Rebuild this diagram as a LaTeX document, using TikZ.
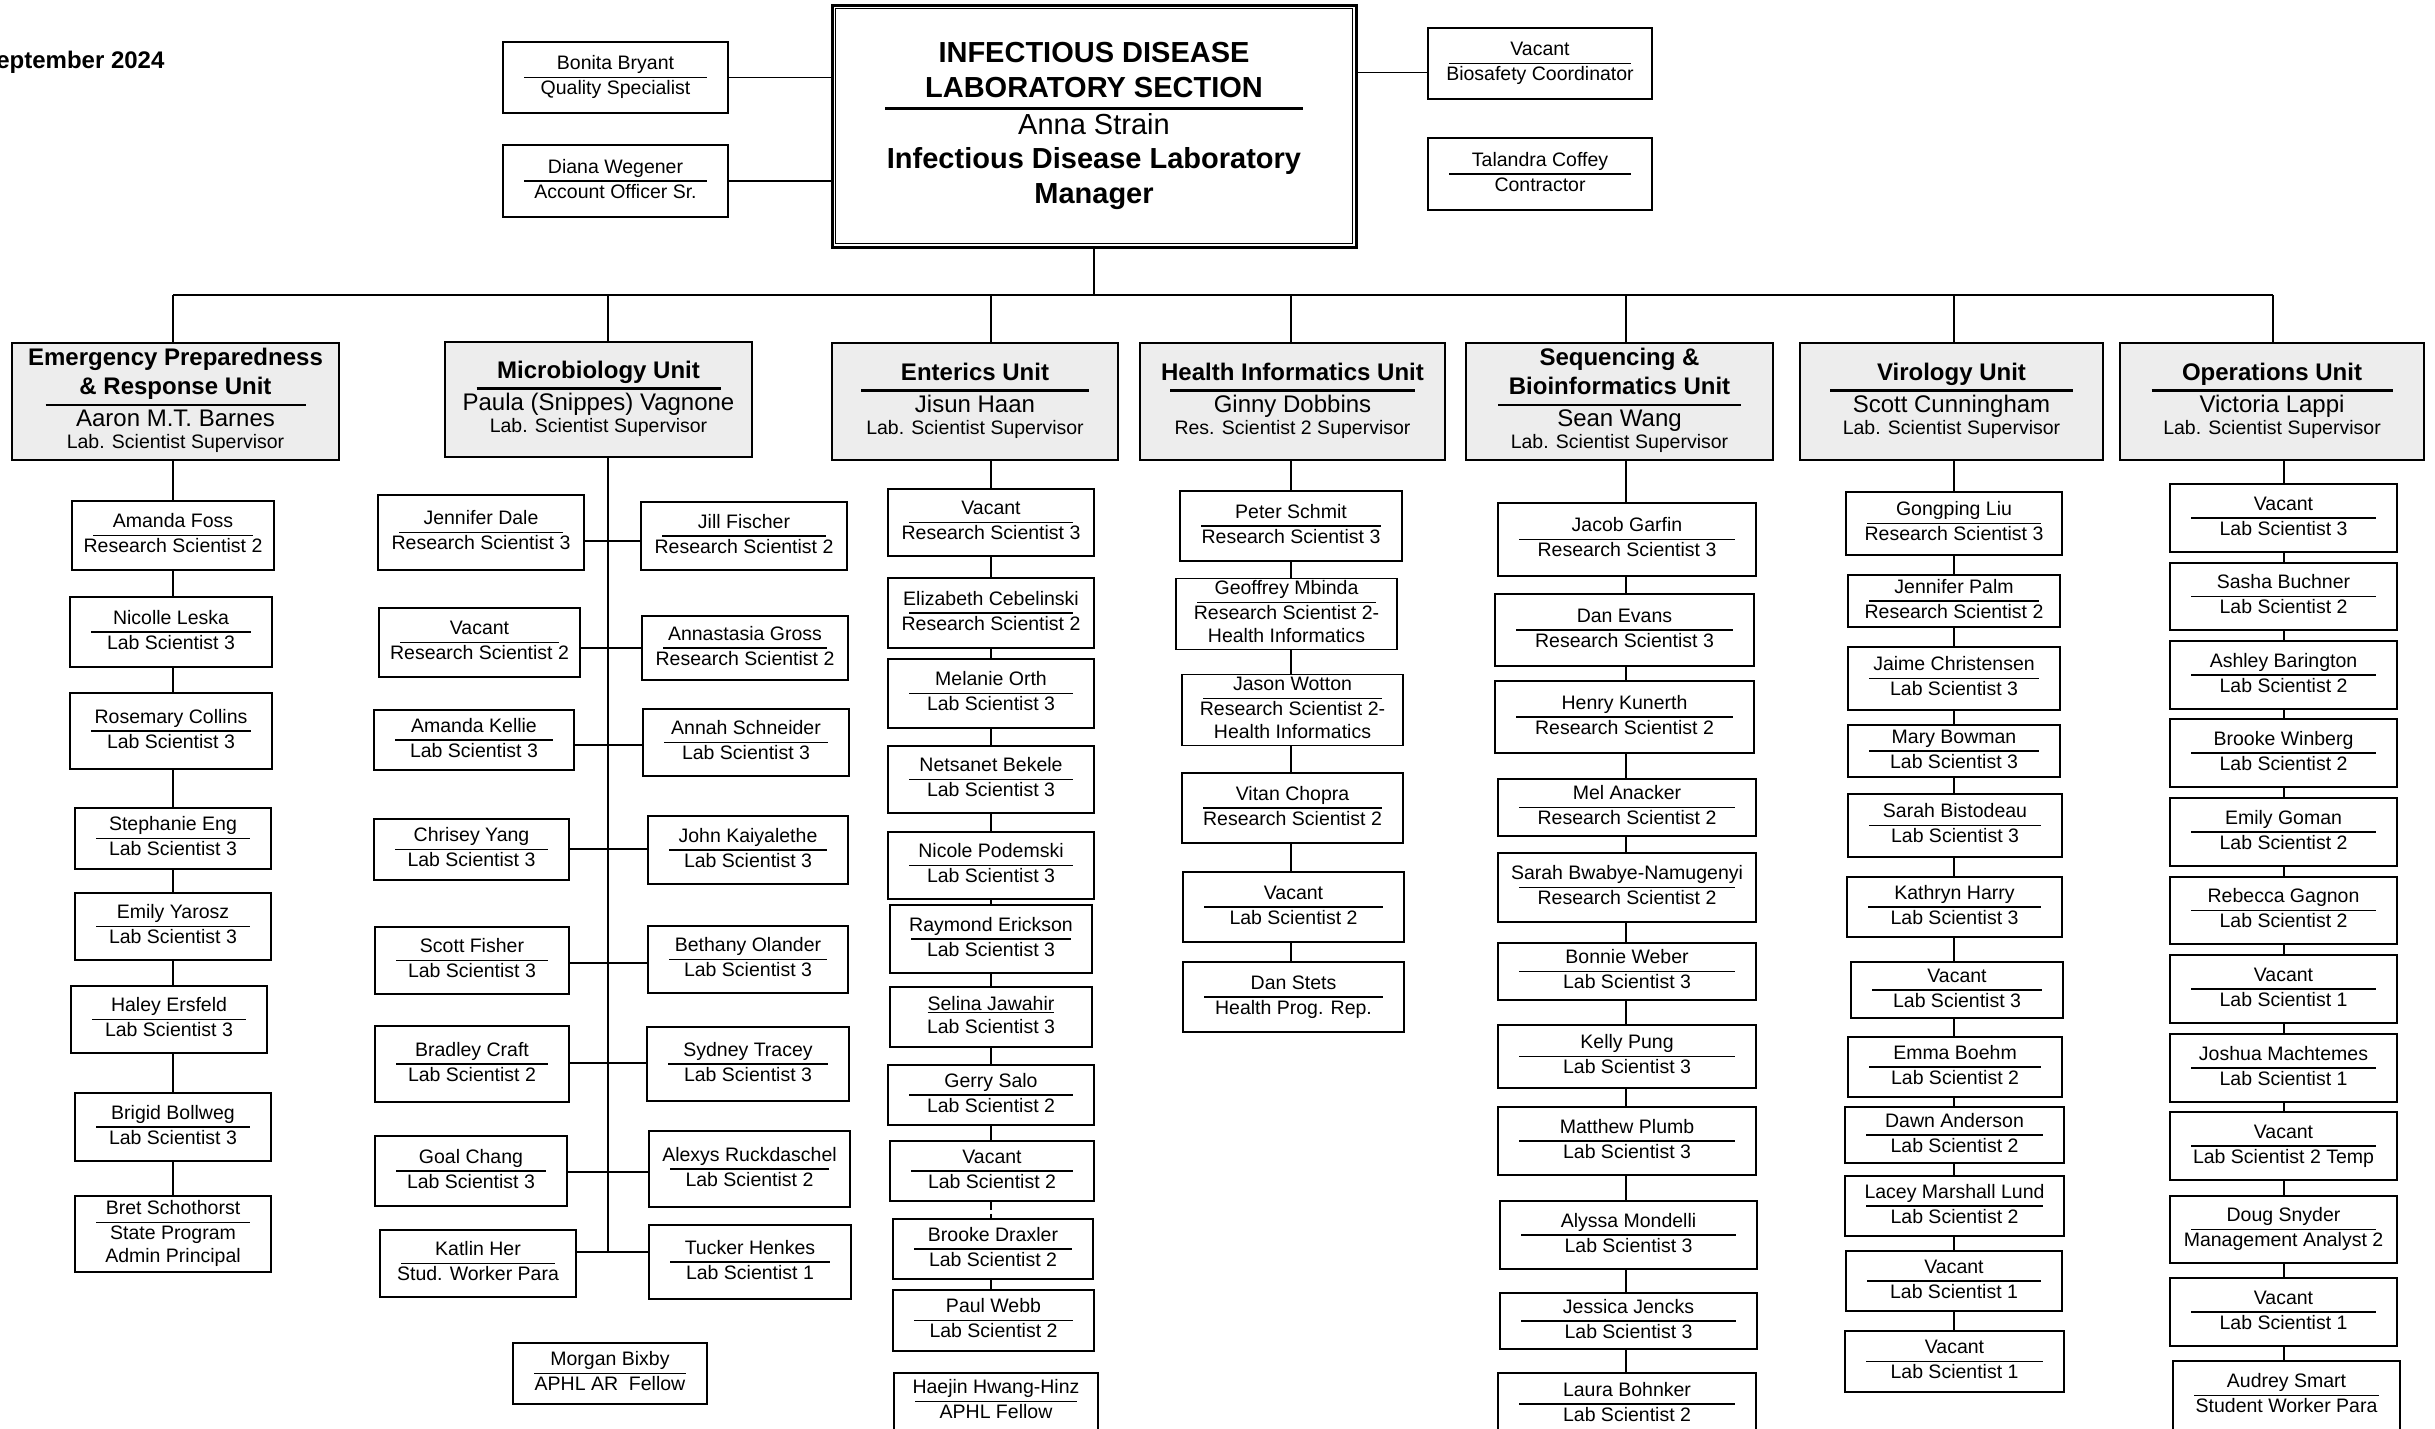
\documentclass[tikz,border=0pt]{standalone}
\usepackage{fontspec}
\setmainfont{Liberation Sans}
\usetikzlibrary{backgrounds}

% card contents: rule width, name, title line(s)
\newcommand{\who}[3]{\begin{tabular}{@{}c@{}}\makebox[#1]{#2}\\\hline\makebox[#1]{#3}\end{tabular}}
\newcommand{\whox}[4]{\begin{tabular}{@{}c@{}}\makebox[#1]{#2}\\\hline\makebox[#1]{#3}\\\makebox[#1]{#4}\end{tabular}}
\newcommand{\hdr}[1]{\makebox[0pt]{\bfseries #1}}
\newcommand{\unitcard}[4]{\begin{tabular}{@{}c@{}}#2\\\hline\makebox[#1]{#3}\\[-7pt]\makebox[#1]{\fontsize{19.5}{23}\selectfont #4}\end{tabular}}

% one staff box from its corners: name, x1, y1, x2, y2, person, title
\newcommand{\staff}[7]{\node[staffbox, minimum width=#4-#2, minimum height=#5-#3] (#1) at ({(#2+#4)/2},{(#3+#5)/2}) {\who{\dimexpr#4pt-#2pt-42pt\relax}{#6}{#7}};}
\newcommand{\staffx}[8]{\node[staffbox, minimum width=#4-#2, minimum height=#5-#3] (#1) at ({(#2+#4)/2},{(#3+#5)/2}) {\whox{\dimexpr#4pt-#2pt-42pt\relax}{#6}{#7}{#8}};}

\tikzset{
  staffbox/.style={draw, line width=1.6pt, fill=white, inner sep=0pt,
    font=\fontsize{19.5}{23}\selectfont\setlength\arrayrulewidth{1.9pt}},
  unitbox/.style={draw, line width=2.6pt, fill=black!7, inner sep=0pt,
    font=\fontsize{24}{29}\selectfont\setlength\arrayrulewidth{2.8pt}},
  chiefbox/.style={draw, line width=3pt, fill=white, inner sep=0pt,
    font=\fontsize{29}{34.5}\selectfont\setlength\arrayrulewidth{2.8pt}},
  link/.style={line width=1.5pt}
}

\begin{document}
\begin{tikzpicture}[x=1pt,y=-1pt]
\useasboundingbox (0,0) rectangle (2435,1428);

\node[font=\bfseries\fontsize{24}{28}\selectfont, anchor=base east] (date) at (168,68) {September 2024};

% section head
\node[chiefbox, minimum width=524, minimum height=242] (mgr) at (1094,126) {\begin{tabular}{@{}c@{}}\hdr{INFECTIOUS DISEASE}\\\hdr{LABORATORY SECTION}\\\hline\makebox[418pt]{Anna Strain}\\\hdr{Infectious Disease Laboratory}\\\hdr{Manager}\end{tabular}};
\draw[line width=1.2pt] ([shift={(5,5)}]mgr.north west) rectangle ([shift={(-5,-5)}]mgr.south east);

\staff{bryant}{503}{42}{728}{113}{Bonita Bryant}{Quality Specialist}
\staff{wegener}{503}{145}{728}{217}{Diana Wegener}{Account Officer Sr.}
\staff{biosafety}{1428}{28}{1652}{99}{Vacant}{Biosafety Coordinator}
\staff{coffey}{1428}{138}{1652}{210}{Talandra Coffey}{Contractor}

% units
\node[unitbox, minimum width=327, minimum height=117] (epr) at (175.5,401.5) {\unitcard{260pt}{\hdr{Emergency Preparedness}\\\hdr{\& Response Unit}}{Aaron M.T. Barnes}{Lab. Scientist Supervisor}};
\node[unitbox, minimum width=307, minimum height=115] (micro) at (598.5,399.5) {\unitcard{244pt}{\hdr{Microbiology Unit}}{Paula (Snippes) Vagnone}{Lab. Scientist Supervisor}};
\node[unitbox, minimum width=286, minimum height=117] (enterics) at (975,401.5) {\unitcard{228pt}{\hdr{Enterics Unit}}{Jisun Haan}{Lab. Scientist Supervisor}};
\node[unitbox, minimum width=305, minimum height=117] (hi) at (1292.5,401.5) {\unitcard{245pt}{\hdr{Health Informatics Unit}}{Ginny Dobbins}{Res. Scientist 2 Supervisor}};
\node[unitbox, minimum width=307, minimum height=117] (seq) at (1619.5,401.5) {\unitcard{243pt}{\hdr{Sequencing \&}\\\hdr{Bioinformatics Unit}}{Sean Wang}{Lab. Scientist Supervisor}};
\node[unitbox, minimum width=303, minimum height=117] (vir) at (1951.5,401.5) {\unitcard{243pt}{\hdr{Virology Unit}}{Scott Cunningham}{Lab. Scientist Supervisor}};
\node[unitbox, minimum width=304, minimum height=117] (ops) at (2272,401.5) {\unitcard{241pt}{\hdr{Operations Unit}}{Victoria Lappi}{Lab. Scientist Supervisor}};

% emergency preparedness
\staff{foss}{72}{501}{274}{570}{Amanda Foss}{Research Scientist 2}
\staff{leska}{70}{597}{272}{667}{Nicolle Leska}{Lab Scientist 3}
\staff{collins}{70}{693}{272}{769}{Rosemary Collins}{Lab Scientist 3}
\staff{eng}{75}{808}{271}{869}{Stephanie Eng}{Lab Scientist 3}
\staff{yarosz}{75}{893}{271}{960}{Emily Yarosz}{Lab Scientist 3}
\staff{ersfeld}{71}{986}{267}{1053}{Haley Ersfeld}{Lab Scientist 3}
\staff{bollweg}{75}{1093}{271}{1161}{Brigid Bollweg}{Lab Scientist 3}
\staffx{schothorst}{75}{1196}{271}{1272}{Bret Schothorst}{State Program}{Admin Principal}

% microbiology
\staff{dale}{378}{495}{584}{570}{Jennifer Dale}{Research Scientist 3}
\staff{mvacant}{379}{608}{580}{677}{Vacant}{Research Scientist 2}
\staff{kellie}{374}{710}{574}{770}{Amanda Kellie}{Lab Scientist 3}
\staff{cyang}{374}{819}{569}{880}{Chrisey Yang}{Lab Scientist 3}
\staff{sfisher}{375}{927}{569}{994}{Scott Fisher}{Lab Scientist 3}
\staff{craft}{375}{1026}{569}{1102}{Bradley Craft}{Lab Scientist 2}
\staff{chang}{375}{1136}{567}{1206}{Goal Chang}{Lab Scientist 3}
\staff{her}{380}{1230}{576}{1297}{Katlin Her}{Stud. Worker Para}
\staff{jfischer}{641}{502}{847}{570}{Jill Fischer}{Research Scientist 2}
\staff{gross}{642}{616}{848}{680}{Annastasia Gross}{Research Scientist 2}
\staff{schneider}{643}{709}{849}{776}{Annah Schneider}{Lab Scientist 3}
\staff{kaiyalethe}{648}{816}{848}{884}{John Kaiyalethe}{Lab Scientist 3}
\staff{olander}{648}{926}{848}{993}{Bethany Olander}{Lab Scientist 3}
\staff{tracey}{647}{1027}{849}{1101}{Sydney Tracey}{Lab Scientist 3}
\staff{ruckdaschel}{649}{1131}{850}{1207}{Alexys Ruckdaschel}{Lab Scientist 2}
\staff{henkes}{649}{1225}{851}{1299}{Tucker Henkes}{Lab Scientist 1}
\staff{bixby}{513}{1343}{707}{1404}{Morgan Bixby}{APHL AR~ Fellow}

% enterics
\staff{evac3}{888}{489}{1094}{556}{Vacant}{Research Scientist 3}
\staff{cebelinski}{888}{578}{1094}{648}{Elizabeth Cebelinski}{Research Scientist 2}
\staff{orth}{888}{659}{1094}{728}{Melanie Orth}{Lab Scientist 3}
\staff{bekele}{888}{746}{1094}{813}{Netsanet Bekele}{Lab Scientist 3}
\staff{podemski}{888}{832}{1094}{899}{Nicole Podemski}{Lab Scientist 3}
\staff{erickson}{890}{905}{1092}{973}{Raymond Erickson}{Lab Scientist 3}
\node[staffbox, minimum width=202, minimum height=60] (jawahir) at (991,1017) {\begin{tabular}{@{}c@{}}\underline{Selina Jawahir}\\Lab Scientist 3\end{tabular}};
\staff{salo}{888}{1065}{1094}{1125}{Gerry Salo}{Lab Scientist 2}
\staff{evac2}{890}{1141}{1094}{1201}{Vacant}{Lab Scientist 2}
\staff{draxler}{893}{1219}{1093}{1279}{Brooke Draxler}{Lab Scientist 2}
\staff{webb}{893}{1290}{1094}{1351}{Paul Webb}{Lab Scientist 2}
\staff{hinz}{894}{1373}{1098}{1430}{Haejin Hwang-Hinz}{APHL Fellow}

% health informatics
\staff{schmit}{1180}{491}{1402}{561}{Peter Schmit}{Research Scientist 3}
\staffx{mbinda}{1176}{579}{1397}{649}{Geoffrey Mbinda}{Research Scientist 2-}{Health Informatics}
\staffx{wotton}{1182}{675}{1403}{745}{Jason Wotton}{Research Scientist 2-}{Health Informatics}
\staff{chopra}{1182}{773}{1403}{843}{Vitan Chopra}{Research Scientist 2}
\staff{hvac}{1183}{872}{1404}{942}{Vacant}{Lab Scientist 2}
\staff{stets}{1183}{962}{1404}{1032}{Dan Stets}{Health Prog. Rep.}

% sequencing
\staff{garfin}{1498}{503}{1756}{576}{Jacob Garfin}{Research Scientist 3}
\staff{evans}{1495}{594}{1754}{666}{Dan Evans}{Research Scientist 3}
\staff{kunerth}{1495}{681}{1754}{753}{Henry Kunerth}{Research Scientist 2}
\staff{anacker}{1498}{779}{1756}{836}{Mel Anacker}{Research Scientist 2}
\staff{bwabye}{1498}{853}{1756}{922}{Sarah Bwabye-Namugenyi}{Research Scientist 2}
\staff{weber}{1498}{943}{1756}{1000}{Bonnie Weber}{Lab Scientist 3}
\staff{pung}{1498}{1025}{1756}{1088}{Kelly Pung}{Lab Scientist 3}
\staff{plumb}{1498}{1107}{1756}{1175}{Matthew Plumb}{Lab Scientist 3}
\staff{mondelli}{1500}{1201}{1757}{1269}{Alyssa Mondelli}{Lab Scientist 3}
\staff{jencks}{1500}{1293}{1757}{1349}{Jessica Jencks}{Lab Scientist 3}
\staff{bohnker}{1498}{1373}{1756}{1435}{Laura Bohnker}{Lab Scientist 2}

% virology
\staff{liu}{1846}{492}{2062}{555}{Gongping Liu}{Research Scientist 3}
\staff{palm}{1848}{575}{2060}{627}{Jennifer Palm}{Research Scientist 2}
\staff{christensen}{1848}{647}{2060}{710}{Jaime Christensen}{Lab Scientist 3}
\staff{bowman}{1848}{725}{2060}{777}{Mary Bowman}{Lab Scientist 3}
\staff{bistodeau}{1848}{794}{2062}{857}{Sarah Bistodeau}{Lab Scientist 3}
\staff{harry}{1847}{877}{2062}{937}{Kathryn Harry}{Lab Scientist 3}
\staff{vvac3}{1851}{962}{2063}{1018}{Vacant}{Lab Scientist 3}
\staff{boehm}{1848}{1037}{2062}{1097}{Emma Boehm}{Lab Scientist 2}
\staff{anderson}{1845}{1107}{2064}{1163}{Dawn Anderson}{Lab Scientist 2}
\staff{lund}{1845}{1176}{2064}{1236}{Lacey Marshall Lund}{Lab Scientist 2}
\staff{vvac1a}{1846}{1251}{2062}{1311}{Vacant}{Lab Scientist 1}
\staff{vvac1b}{1845}{1331}{2064}{1392}{Vacant}{Lab Scientist 1}

% operations
\staff{ovac3}{2170}{484}{2397}{552}{Vacant}{Lab Scientist 3}
\staff{buchner}{2170}{563}{2397}{630}{Sasha Buchner}{Lab Scientist 2}
\staff{barington}{2170}{641}{2397}{709}{Ashley Barington}{Lab Scientist 2}
\staff{winberg}{2170}{719}{2397}{787}{Brooke Winberg}{Lab Scientist 2}
\staff{goman}{2170}{798}{2397}{866}{Emily Goman}{Lab Scientist 2}
\staff{gagnon}{2170}{877}{2397}{944}{Rebecca Gagnon}{Lab Scientist 2}
\staff{ovac1a}{2170}{955}{2397}{1023}{Vacant}{Lab Scientist 1}
\staff{machtemes}{2170}{1034}{2397}{1102}{Joshua Machtemes}{Lab Scientist 1}
\staff{ovac2t}{2170}{1112}{2397}{1180}{Vacant}{Lab Scientist 2 Temp}
\staff{snyder}{2170}{1196}{2397}{1263}{Doug Snyder}{Management Analyst 2}
\staff{ovac1b}{2170}{1278}{2397}{1346}{Vacant}{Lab Scientist 1}
\staff{smart}{2173}{1361}{2400}{1430}{Audrey Smart}{Student Worker Para}

% bus and spines
\coordinate (bus) at (1094,295);
\coordinate (c1) at (173,295);
\coordinate (c2) at (608,295);
\coordinate (c3) at (991,295);
\coordinate (c4) at (1291,295);
\coordinate (c5) at (1626,295);
\coordinate (c6) at (1954,295);
\coordinate (c7) at (2273,295);
\coordinate (c7s) at (2284,460);
\coordinate (m1) at (608,541);
\coordinate (m2) at (608,648);
\coordinate (m3) at (608,745);
\coordinate (m4) at (608,849);
\coordinate (m5) at (608,963);
\coordinate (m6) at (608,1063);
\coordinate (m7) at (608,1172);
\coordinate (m8) at (608,1252);

\begin{scope}[on background layer]
\fill[white] (0,0) rectangle (2435,1428);
\draw[link] (bryant.east) -- (bryant.east -| mgr.west);
\draw[link] (wegener.east) -- (wegener.east -| mgr.west);
\draw[link] ([yshift=-9pt]biosafety.west) -- ([yshift=-9pt]biosafety.west -| mgr.east);
\draw[link] (mgr.south) -- (bus);
\draw[link] (c1) -- (c7);

\draw[link] (c1) -- (c1 |- schothorst.north);

\draw[link] (c2) -- (m8);
\draw[link] (dale.east |- m1) -- (jfischer.west |- m1);
\draw[link] (mvacant.east |- m2) -- (gross.west |- m2);
\draw[link] (kellie.east |- m3) -- (schneider.west |- m3);
\draw[link] (cyang.east |- m4) -- (kaiyalethe.west |- m4);
\draw[link] (sfisher.east |- m5) -- (olander.west |- m5);
\draw[link] (craft.east |- m6) -- (tracey.west |- m6);
\draw[link] (chang.east |- m7) -- (ruckdaschel.west |- m7);
\draw[link] (her.east |- m8) -- (henkes.west |- m8);

\draw[link] (c3) -- (c3 |- evac2.south);
\draw[link, dash pattern=on 8pt off 4pt] (c3 |- evac2.south) -- (c3 |- draxler.north);
\draw[link] (c3 |- draxler.south) -- (c3 |- webb.north);

\draw[link] (c4) -- (c4 |- stets.north);
\draw[link] (c5) -- (c5 |- bohnker.north);
\draw[link] (c6) -- (c6 |- vvac1b.north);
\draw[link] (c7) -- (c7 |- ops.north);
\draw[link] (c7s) -- (c7s |- smart.north);
\end{scope}
\end{tikzpicture}
\end{document}
